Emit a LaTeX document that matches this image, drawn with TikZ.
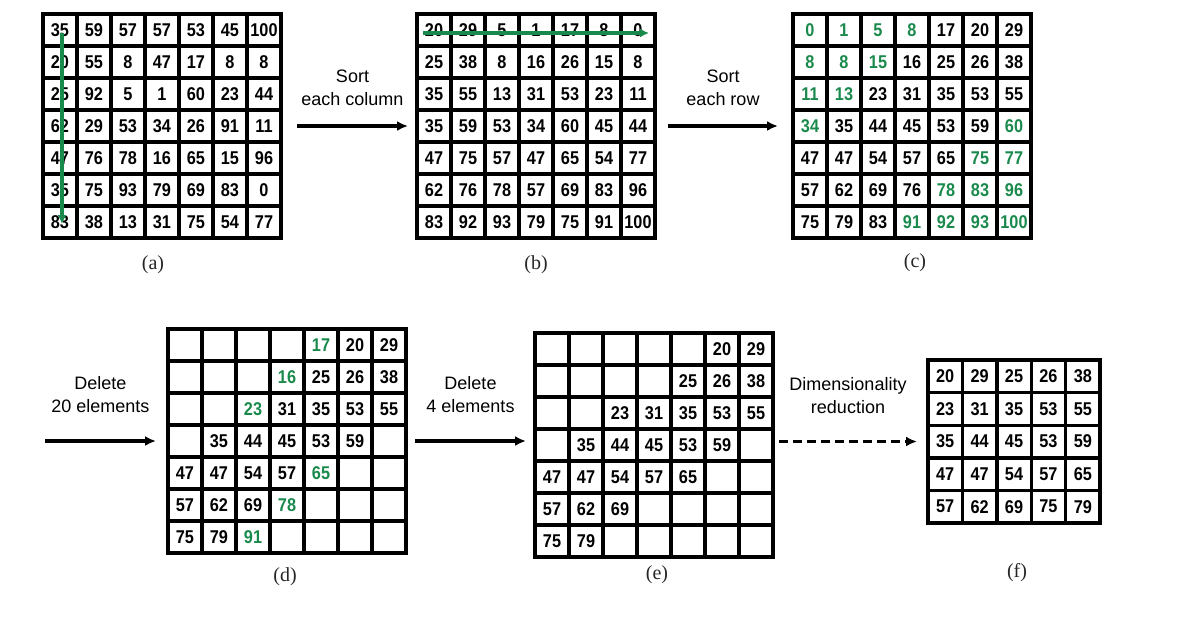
\documentclass[tikz,border=0pt]{standalone}
\usepackage{fontspec}
\setsansfont{Liberation Sans}
\newfontfamily\capfont{Liberation Serif}
\usetikzlibrary{arrows.meta,positioning}
\definecolor{sortcol}{HTML}{1A8A4C}
\tikzstyle{flow} = [-{Latex[length=11pt,width=10pt]}, line width=3.3pt]
\tikzstyle{reduce} = [flow, dash pattern=on 9pt off 5pt]
\tikzstyle{scan} = [-{Latex[length=9pt,width=9pt]}, sortcol, line width=3.2pt]
\tikzset{
  cell/.style = {
    shape = rectangle,
    draw,
    line width = 3.4pt,
    inner sep = 0pt,
    outer sep = 0pt,
    font = \sffamily\bfseries\fontsize{18.5}{18.5}\selectfont,
    },
  action/.style = {
    font = \sffamily\fontsize{18}{23}\selectfont,
    align = center,
    },
  caption/.style = {
    font = \capfont\fontsize{20}{20}\selectfont,
    text = black!85,
    },
}
\newcommand{\grn}[1]{\textcolor{sortcol}{#1}}
% name, left, top, cell width, cell height, rows
\newcommand{\numgrid}[6]{%
  \foreach \row [count=\rw] in {#6} {
    \foreach \val [count=\cl] in \row {
      \node[cell, minimum width=#4pt, minimum height=#5pt]
        (#1-\rw-\cl) at ({#2+(\cl-0.5)*#4}, {#3+(\rw-0.5)*#5}) {\scalebox{0.88}[1]{\val}};
    }
  }%
}

\begin{document}
\begin{tikzpicture}[x=1pt, y=-1pt]
    \useasboundingbox (0,0) rectangle (1192,633);

    % first row of matrices
    \numgrid{a}{43}{14}{34}{32}{%
      {35,59,57,57,53,45,100},{20,55,8,47,17,8,8},{25,92,5,1,60,23,44},
      {62,29,53,34,26,91,11},{47,76,78,16,65,15,96},{35,75,93,79,69,83,0},
      {83,38,13,31,75,54,77}}
    \numgrid{b}{417}{14}{34}{32}{%
      {20,29,5,1,17,8,0},{25,38,8,16,26,15,8},{35,55,13,31,53,23,11},
      {35,59,53,34,60,45,44},{47,75,57,47,65,54,77},{62,76,78,57,69,83,96},
      {83,92,93,79,75,91,100}}
    \numgrid{c}{793}{14}{34}{32}{%
      {\grn{0},\grn{1},\grn{5},\grn{8},17,20,29},
      {\grn{8},\grn{8},\grn{15},16,25,26,38},
      {\grn{11},\grn{13},23,31,35,53,55},
      {\grn{34},35,44,45,53,59,\grn{60}},
      {47,47,54,57,65,\grn{75},\grn{77}},
      {57,62,69,76,\grn{78},\grn{83},\grn{96}},
      {75,79,83,\grn{91},\grn{92},\grn{93},\grn{100}}}

    % second row of matrices
    \numgrid{d}{168}{329}{34}{32}{%
      {{},{},{},{},\grn{17},20,29},
      {{},{},{},\grn{16},25,26,38},
      {{},{},\grn{23},31,35,53,55},
      {{},35,44,45,53,59,{}},
      {47,47,54,57,\grn{65},{},{}},
      {57,62,69,\grn{78},{},{},{}},
      {75,79,\grn{91},{},{},{},{}}}
    \numgrid{e}{535}{333}{34}{32}{%
      {{},{},{},{},{},20,29},
      {{},{},{},{},25,26,38},
      {{},{},23,31,35,53,55},
      {{},35,44,45,53,59,{}},
      {47,47,54,57,65,{},{}},
      {57,62,69,{},{},{},{}},
      {75,79,{},{},{},{},{}}}
    \numgrid{f}{928}{360}{34.4}{32.6}{%
      {20,29,25,26,38},{23,31,35,53,55},{35,44,45,53,59},
      {47,47,54,57,65},{57,62,69,75,79}}

    % sort directions
    \draw[scan] ([xshift=2pt,yshift=-3pt]a-1-1.center) -- ([xshift=2pt,yshift=-2pt]a-7-1.center);
    \draw[scan] ([xshift=-11pt,yshift=-3pt]b-1-1.center) -- ([xshift=11pt,yshift=-3pt]b-1-7.center);

    % Paths
    \draw[flow] ([xshift=16pt]a-4-7.east) -- node[action, above=15pt] {Sort\\each column} ([xshift=-9pt]b-4-1.west);
    \draw[flow] ([xshift=13pt]b-4-7.east) -- node[action, above=15pt] {Sort\\each row} ([xshift=-15pt]c-4-1.west);

    \coordinate (feed) at (45,441);
    \draw[flow] (feed) -- node[action, above=23pt] {Delete\\20 elements} ([xshift=-12pt]d-4-1.west);
    \draw[flow] ([xshift=9pt]d-4-7.east) -- node[action, above=23pt] {Delete\\4 elements} ([xshift=-9pt]e-4-1.west |- d-4-7.east);
    \draw[reduce] ([xshift=6pt]e-4-7.east |- f-3-1.west) -- node[action, above=23pt] {Dimensionality\\reduction} ([xshift=-11pt]f-3-1.west);

    % captions
    \node[caption] (cap-a) at (153,265) {(a)};
    \node[caption] (cap-b) at (536,265) {(b)};
    \node[caption] (cap-c) at (915,263) {(c)};
    \node[caption] (cap-d) at (285,577) {(d)};
    \node[caption] (cap-e) at (657,575) {(e)};
    \node[caption] (cap-f) at (1017,573) {(f)};
\end{tikzpicture}
\end{document}
